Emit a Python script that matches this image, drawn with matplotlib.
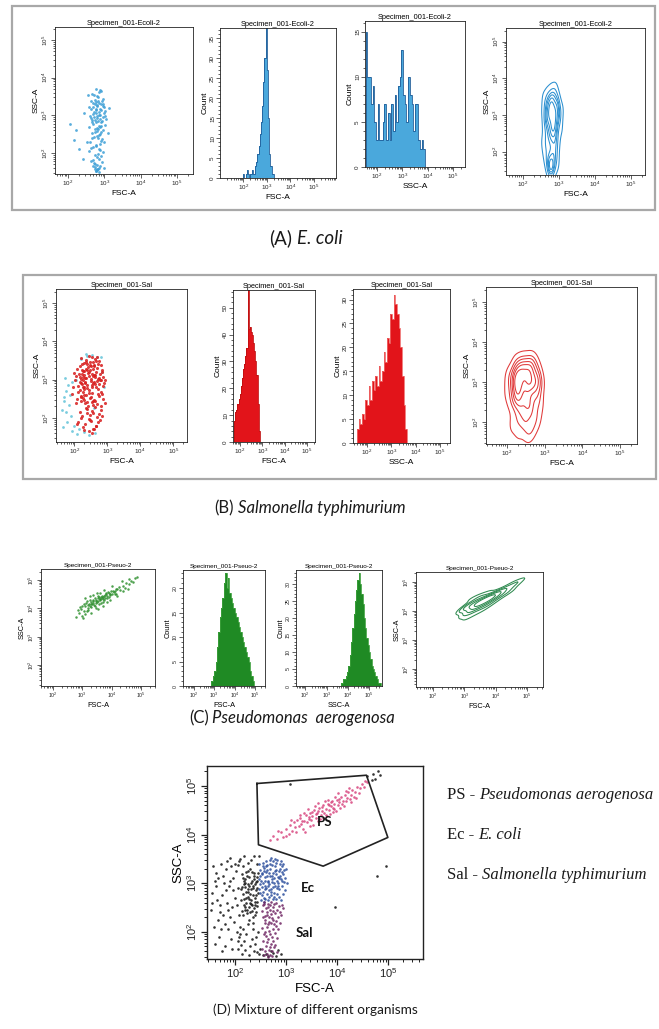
import numpy as np
import matplotlib
matplotlib.use("Agg")
import matplotlib.pyplot as plt
import seaborn as sns
from matplotlib.patches import Rectangle

plt.rcParams['font.family'] = ['Liberation Sans', 'DejaVu Sans']
plt.rcParams['mathtext.fontset'] = 'custom'
plt.rcParams['mathtext.rm'] = 'Liberation Sans'
plt.rcParams['mathtext.it'] = 'Liberation Sans:italic'

# ---------------- data (log10 units for FSC-A / SSC-A) ----------------
# (A) E. coli scatter
ecoli_fsc = [2.78, 2.86, 2.71, 2.92, 2.83, 2.66, 2.95, 2.80, 2.74, 2.89,
             2.62, 2.84, 2.97, 2.76, 2.69, 2.91, 2.81, 3.02, 2.73, 2.87,
             2.79, 2.58, 2.94, 2.85, 2.68, 2.99, 2.77, 2.90, 2.64, 2.82,
             2.71, 2.88, 2.95, 2.60, 2.83, 2.76, 3.05, 2.67, 2.92, 2.80,
             2.86, 2.74, 2.98, 2.63, 2.81, 2.93, 2.70, 2.89, 2.78, 3.01,
             2.69, 2.91, 2.82, 2.58, 2.96, 2.75, 2.87, 2.65, 3.03, 2.79,
             2.84, 2.72, 2.94, 2.61, 2.80, 2.88, 2.67, 2.99, 2.76, 2.90,
             2.77, 2.63, 2.89, 2.83, 2.70, 2.96, 2.74, 2.86, 2.59, 2.92,
             2.81, 2.68, 2.93, 2.75, 2.87, 2.62, 2.98, 2.79, 2.71, 2.85,
             2.76, 2.82, 2.73, 2.79, 2.86, 2.70, 2.84, 2.77, 2.80, 2.74,
             2.05, 2.22, 2.30, 2.45, 2.52, 3.10, 2.40, 2.55, 3.12, 2.15,
             2.73, 2.85, 2.90, 2.66, 2.78, 2.83, 2.95, 2.71, 2.88, 2.80]
ecoli_ssc = [3.70, 3.62, 3.55, 3.66, 3.48, 3.58, 3.44, 3.52, 3.41, 3.68,
             3.38, 3.33, 3.29, 3.36, 3.21, 3.15, 3.25, 3.12, 3.31, 3.18,
             3.27, 3.22, 3.37, 3.10, 3.34, 3.23, 3.14, 3.30, 3.17, 3.39,
             3.08, 3.02, 2.95, 2.98, 2.86, 3.05, 2.90, 2.83, 2.81, 2.93,
             3.00, 2.88, 3.06, 2.92, 2.97, 2.85, 3.03, 2.91, 2.82, 2.99,
             2.78, 2.72, 2.65, 2.70, 2.60, 2.55, 2.68, 2.52, 2.75, 2.58,
             2.48, 2.42, 2.36, 2.30, 2.45, 2.25, 2.39, 2.28, 2.21, 2.33,
             2.18, 2.12, 2.07, 1.98, 2.15, 2.02, 1.94, 2.10, 2.05, 1.91,
             1.88, 1.82, 1.76, 1.70, 1.65, 1.79, 1.60, 1.56, 1.73, 1.85,
             1.52, 1.58, 1.62, 1.55, 1.50, 1.66, 1.61, 1.53, 1.68, 1.57,
             2.78, 2.60, 2.10, 3.05, 2.30, 2.52, 1.85, 3.55, 3.20, 2.35,
             2.63, 2.71, 2.57, 2.87, 3.18, 2.40, 3.26, 2.95, 2.50, 2.67]

# (A) histograms
ecoli_fsc_lo, ecoli_fsc_hi = 1.95, 3.35
ecoli_fsc_counts = [0, 1, 0, 1, 2, 1, 0, 1, 2, 1, 1, 3, 4, 6, 8, 11, 14, 18,
                    24, 30, 38, 27, 15, 6, 3, 1, 1, 0]
ecoli_ssc_lo, ecoli_ssc_hi = 1.56, 3.90
ecoli_ssc_counts = [15, 10, 10, 7, 9, 5, 3, 7, 3, 3, 5, 7, 3, 6, 3, 7, 4, 8,
                    5, 9, 10, 13, 8, 7, 5, 10, 8, 7, 4, 7, 7, 3, 2, 3, 2]

# (B) Salmonella scatter (gated red events + ungated cyan events)
sal_fsc = [2.35, 2.62, 2.81, 2.48, 2.22, 2.70, 2.55, 2.41, 2.88, 2.60,
           2.30, 2.75, 2.52, 2.38, 2.84, 2.45, 2.66, 2.25, 2.57, 2.78,
           2.33, 2.54, 2.90, 2.63, 2.43, 2.71, 2.20, 2.50, 2.83, 2.40,
           2.65, 2.28, 2.58, 2.79, 2.46, 2.36, 2.73, 2.56, 2.86, 2.31,
           2.61, 2.44, 2.68, 2.53, 2.26, 2.92, 2.64, 2.39, 2.59, 2.76,
           2.25, 2.48, 2.61, 2.35, 2.72, 2.55, 2.18, 2.44, 2.66, 2.80,
           2.30, 2.52, 2.63, 2.40, 2.76, 2.58, 2.22, 2.47, 2.69, 2.36,
           2.05, 2.18, 2.28, 1.98, 2.12, 2.32, 2.22, 2.08, 2.25, 1.95,
           2.15, 2.30, 2.02, 2.20, 2.34, 2.10, 2.26, 2.00, 2.17, 2.31,
           2.13, 2.24, 2.06, 2.29, 2.19,
           2.28, 2.52, 2.72, 2.40, 2.88, 2.58, 2.22, 2.80, 2.46, 2.64,
           2.32, 2.55, 2.92, 2.26, 2.76, 2.42, 2.60, 2.85, 2.36, 2.57,
           2.68, 2.48, 2.30, 2.82, 2.54,
           2.36, 2.55, 2.74, 2.25, 2.62, 2.45, 2.82, 2.18, 2.50, 2.68,
           2.32, 2.58, 2.40, 2.78, 2.12, 2.65, 2.48, 2.28, 2.60, 2.72,
           2.44, 2.22, 2.54, 2.66, 2.38, 2.10, 2.57, 2.47, 2.85, 2.30]
sal_ssc = [3.05, 3.12, 2.98, 3.25, 2.91, 3.30, 2.85, 3.18, 3.08, 2.95,
           3.22, 2.88, 3.02, 2.78, 3.20, 3.10, 2.82, 3.15, 3.28, 3.00,
           2.93, 3.16, 2.90, 3.06, 3.33, 2.75, 3.03, 2.97, 3.26, 2.86,
           3.21, 2.80, 3.09, 3.14, 2.72, 3.27, 3.01, 2.92, 2.84, 3.11,
           3.35, 3.19, 2.96, 2.81, 3.07, 3.00, 2.89, 3.24, 3.13, 3.04,
           3.40, 3.45, 3.38, 3.52, 3.42, 3.58, 3.36, 3.62, 3.48, 3.39,
           3.44, 3.37, 3.55, 3.41, 3.50, 3.46, 3.56, 3.39, 3.60, 3.47,
           3.10, 2.95, 3.22, 2.80, 2.68, 3.05, 2.55, 3.28, 2.88, 2.62,
           3.15, 2.75, 2.98, 2.45, 2.92, 2.50, 3.00, 3.18, 2.72, 2.60,
           2.84, 3.25, 2.40, 2.82, 3.08,
           2.68, 2.55, 2.62, 2.42, 2.50, 2.35, 2.58, 2.30, 2.65, 2.45,
           2.38, 2.66, 2.40, 2.52, 2.57, 2.32, 2.48, 2.63, 2.60, 2.44,
           2.36, 2.53, 2.46, 2.67, 2.41,
           2.25, 2.18, 2.10, 2.05, 2.28, 1.98, 2.20, 2.15, 1.92, 2.02,
           1.85, 2.12, 2.22, 1.95, 1.90, 1.80, 2.07, 1.75, 1.70, 1.88,
           1.65, 2.00, 1.60, 1.78, 2.14, 1.83, 1.72, 1.95, 2.06, 1.68]
sal_other_fsc = [1.62, 1.70, 1.78, 1.85, 1.66, 1.74, 1.90, 1.81, 1.68, 1.95,
                 1.88, 1.75, 2.00, 2.10, 2.30, 2.45, 2.62, 2.80, 2.20, 2.40,
                 2.55, 2.70, 2.85, 2.15, 1.92, 2.05, 2.35, 2.60, 2.90, 1.72]
sal_other_ssc = [2.20, 2.55, 1.90, 2.35, 1.75, 2.70, 2.05, 2.85, 2.45, 1.65,
                 2.60, 2.15, 1.80, 1.58, 1.62, 1.55, 1.60, 3.58, 3.55, 3.62,
                 3.64, 3.60, 3.20, 1.70, 2.95, 3.00, 3.66, 2.25, 2.80, 3.05]

# (B) histograms
sal_fsc_lo, sal_fsc_hi = 1.74, 2.89
sal_fsc_counts = [8, 11, 12, 14, 16, 18, 21, 24, 27, 29, 32, 35, 57, 42, 43,
                  41, 40, 37, 34, 30, 25, 14, 4]
sal_ssc_lo, sal_ssc_hi = 1.58, 3.64
sal_ssc_counts = [3, 5, 4, 6, 5, 9, 8, 12, 9, 13, 11, 14, 12, 16, 13, 15, 19,
                  17, 22, 21, 27, 26, 31, 29, 27, 24, 20, 14, 8, 3]

# (C) Pseudomonas scatter
pseudo_fsc = [3.12, 3.25, 3.38, 3.45, 3.52, 3.30, 3.18, 3.60, 3.66, 3.72,
              3.80, 3.85, 3.92, 3.40, 3.55, 3.70, 3.22, 3.48, 3.63, 3.77,
              3.08, 3.35, 3.58, 3.95, 4.05, 3.28, 3.50, 3.68, 3.88, 4.10,
              3.15, 3.42, 3.57, 3.75, 3.98, 4.15, 3.33, 3.62, 3.83, 4.02,
              3.20, 3.46, 3.53, 3.70, 3.90, 4.20, 3.36, 3.65, 3.82, 4.08,
              3.05, 3.26, 3.44, 3.59, 3.78, 3.96, 4.12, 3.31, 3.73, 4.25,
              2.88, 2.95, 3.00, 2.92, 3.05, 3.10, 2.85, 3.15, 2.98, 3.02,
              4.30, 4.38, 4.45, 4.50, 4.58, 4.65, 4.72, 4.80, 4.86, 4.40,
              3.25, 3.50, 3.75, 4.00, 3.20, 3.45, 3.70, 3.95, 4.20, 4.35,
              3.10, 3.60, 3.85, 4.15, 3.38, 2.80, 3.30, 4.55, 3.55, 4.60]
pseudo_ssc = [4.20, 4.08, 4.30, 4.18, 4.36, 4.22, 4.02, 4.28, 4.45, 4.32,
              4.50, 4.38, 4.55, 4.12, 4.25, 4.40, 4.16, 4.31, 4.20, 4.47,
              4.10, 4.27, 4.41, 4.48, 4.62, 4.05, 4.22, 4.35, 4.58, 4.52,
              4.25, 4.38, 4.15, 4.28, 4.60, 4.70, 4.14, 4.33, 4.42, 4.49,
              4.12, 4.26, 4.44, 4.22, 4.40, 4.68, 4.20, 4.39, 4.53, 4.57,
              4.15, 4.30, 4.09, 4.34, 4.37, 4.52, 4.60, 4.17, 4.43, 4.75,
              3.85, 3.98, 3.72, 4.05, 3.90, 3.80, 3.95, 3.92, 4.10, 3.65,
              4.66, 4.80, 4.72, 4.90, 4.85, 4.98, 4.92, 5.06, 5.10, 4.62,
              4.45, 4.55, 4.65, 4.78, 3.95, 4.00, 4.10, 4.30, 4.45, 4.95,
              4.35, 4.55, 4.22, 4.50, 4.48, 3.70, 3.85, 4.70, 3.98, 5.05]

# (C) histograms
pseudo_fsc_lo, pseudo_fsc_hi = 2.86, 4.95
pseudo_fsc_counts = [1, 2, 3, 5, 8, 11, 14, 16, 18, 21, 23, 20, 22, 19, 18,
                     17, 16, 15, 14, 13, 12, 11, 10, 9, 8, 7, 6, 5, 3, 2, 1]
pseudo_ssc_lo, pseudo_ssc_hi = 3.67, 5.53
pseudo_ssc_counts = [1, 1, 2, 2, 3, 4, 6, 9, 13, 17, 21, 25, 28, 31, 33, 30,
                     27, 24, 20, 17, 14, 12, 10, 8, 6, 5, 4, 3, 2, 1, 1]

# (D) mixture
mix_other_fsc = [2.15, 2.28, 2.38, 2.22, 2.41, 2.33, 2.18, 2.30, 2.44, 2.25,
                 2.12, 2.36, 2.20, 2.43, 2.27, 2.39, 2.16, 2.32, 2.24, 2.40,
                 2.13, 2.35, 2.21, 2.45, 2.29, 2.19, 2.37, 2.26, 2.42, 2.14,
                 2.31, 2.23, 2.40, 2.17, 2.34, 2.28, 2.44, 2.20, 2.36, 2.25,
                 2.11, 2.38, 2.30, 2.42, 2.18, 2.27, 2.33, 2.22, 2.45, 2.15,
                 2.39, 2.26, 2.32, 2.19, 2.43, 2.35, 2.21, 2.29, 2.41, 2.13,
                 2.37, 2.24, 2.31, 2.17, 2.44, 2.28, 2.40, 2.20, 2.34, 2.26,
                 1.55, 1.62, 1.70, 1.78, 1.85, 1.92, 1.98, 2.05, 1.58, 1.65,
                 1.72, 1.80, 1.88, 1.95, 2.02, 2.08, 1.60, 1.68, 1.75, 1.83,
                 1.90, 1.97, 2.04, 1.53, 1.63, 1.73, 1.82, 1.93, 2.00, 2.07,
                 1.57, 1.66, 1.77, 1.87, 1.96, 2.03, 1.61, 1.71, 1.81, 1.91,
                 2.09, 1.99, 1.86, 1.76, 1.67, 1.54, 1.94, 2.06, 1.84, 1.74,
                 2.10, 2.22, 2.35, 2.18, 2.30, 2.42, 2.05, 2.26, 2.38, 2.14,
                 2.45, 2.33, 2.20, 2.08, 2.40, 2.28, 2.16, 2.44, 2.12, 2.36,
                 2.50, 2.60, 2.70, 2.80, 2.55, 2.75, 2.65, 2.85, 2.48, 2.90,
                 2.10, 2.25, 2.38, 2.05, 2.32, 2.18, 2.44, 1.90, 2.48, 2.15,
                 4.60, 4.70, 4.75, 4.80, 4.68, 4.85, 3.08, 4.97, 4.78, 3.96]
mix_other_ssc = [3.10, 2.95, 3.20, 2.70, 2.85, 3.05, 2.55, 2.40, 2.62, 3.25,
                 2.88, 2.75, 3.00, 3.12, 2.50, 2.35, 2.78, 2.65, 3.15, 2.98,
                 2.42, 2.90, 2.60, 2.80, 3.30, 2.92, 2.48, 2.82, 3.02, 3.18,
                 2.58, 2.38, 2.70, 3.05, 3.22, 2.68, 2.52, 2.45, 2.95, 2.88,
                 2.65, 3.08, 2.78, 2.40, 2.98, 3.12, 2.55, 2.82, 3.20, 2.35,
                 2.62, 2.72, 3.00, 2.50, 2.90, 2.30, 3.22, 2.60, 2.75, 2.92,
                 3.15, 2.45, 2.88, 2.68, 3.05, 2.25, 2.55, 3.08, 2.42, 2.98,
                 2.80, 3.20, 2.40, 3.00, 2.60, 3.35, 2.20, 2.90, 2.10, 2.65,
                 3.40, 2.15, 2.95, 2.50, 3.25, 2.35, 3.05, 1.90, 2.75, 3.30,
                 2.30, 3.10, 2.55, 2.45, 2.95, 2.05, 2.85, 1.85, 2.70, 3.45,
                 3.35, 2.25, 3.15, 2.45, 2.85, 2.00, 1.75, 2.55, 1.70, 3.05,
                 1.95, 3.40, 2.05, 2.35, 3.10, 2.60, 1.65, 1.80, 3.45, 1.60,
                 2.10, 1.95, 2.05, 1.80, 1.70, 1.90, 1.65, 2.15, 1.60, 1.55,
                 2.00, 1.85, 1.62, 1.90, 1.75, 1.52, 2.05, 1.58, 1.72, 2.18,
                 1.65, 1.55, 1.60, 1.50, 1.52, 1.57, 1.50, 1.62, 1.55, 1.55,
                 3.50, 3.42, 3.55, 3.38, 3.48, 3.56, 3.40, 3.52, 3.55, 3.35,
                 5.20, 5.25, 5.15, 5.30, 5.12, 5.22, 5.05, 3.35, 3.14, 2.51]
mix_ec_fsc = [2.52, 2.65, 2.78, 2.58, 2.85, 2.70, 2.48, 2.92, 2.62, 2.75,
              2.55, 2.88, 2.68, 2.50, 2.82, 2.60, 2.95, 2.72, 2.57, 2.80,
              2.47, 2.66, 2.90, 2.63, 2.77, 2.53, 2.86, 2.69, 2.98, 2.59,
              2.74, 2.51, 2.84, 2.64, 2.79, 2.56, 2.93, 2.71, 2.49, 2.87,
              2.61, 2.76, 2.54, 2.91, 2.67, 2.81, 2.58, 2.96, 2.73, 2.50,
              2.83, 2.63, 2.78, 2.55, 2.89, 2.69, 2.52, 2.97, 2.65, 2.80,
              2.60, 2.75, 2.86, 2.57, 2.72, 2.94, 2.48, 2.68, 2.82, 2.62,
              2.99, 2.54, 2.77, 2.66, 2.88, 2.51, 2.74, 2.92, 2.59, 2.85,
              3.02, 3.00, 2.70, 2.56, 2.90, 2.64, 2.79, 2.53, 2.83, 2.71,
              2.61, 2.87, 2.76, 2.58, 2.95, 2.67, 2.81, 2.50, 2.73, 2.93]
mix_ec_ssc = [3.20, 3.05, 3.35, 2.88, 3.12, 2.75, 3.40, 2.95, 3.28, 2.68,
              3.00, 3.30, 3.15, 2.80, 2.90, 3.45, 3.18, 3.02, 2.70, 3.42,
              3.08, 2.85, 3.08, 3.38, 2.80, 2.92, 3.25, 3.48, 2.85, 3.12,
              3.20, 2.65, 3.00, 2.95, 3.50, 3.32, 3.35, 2.88, 3.15, 2.72,
              3.22, 3.10, 2.82, 3.45, 2.72, 3.28, 3.05, 3.02, 3.38, 2.98,
              2.78, 3.15, 2.95, 3.42, 3.15, 3.30, 2.75, 3.28, 2.65, 3.18,
              2.90, 3.45, 2.88, 3.25, 3.08, 2.78, 2.88, 3.40, 3.05, 2.78,
              3.10, 3.35, 2.72, 3.20, 3.40, 3.05, 2.92, 3.22, 2.68, 2.95,
              3.00, 3.30, 3.52, 2.62, 2.65, 3.02, 3.25, 3.18, 3.48, 2.82,
              3.35, 3.10, 3.00, 2.95, 3.40, 2.98, 2.68, 3.28, 3.15, 3.05]
mix_sal_fsc = [2.55, 2.68, 2.80, 2.62, 2.75, 2.58, 2.88, 2.70, 2.52, 2.84,
               2.65, 2.78, 2.60, 2.92, 2.72, 2.56, 2.82, 2.66, 2.76, 2.63,
               2.86, 2.59, 2.74, 2.69, 2.54, 2.81, 2.64, 2.90, 2.71, 2.57,
               2.62, 2.75, 2.68, 2.58, 2.80, 2.65, 2.72, 2.55, 2.78, 2.85,
               2.60, 2.70, 2.66, 2.76, 2.63, 2.73, 2.58, 2.82, 2.68, 2.52,
               2.64, 2.70, 2.77, 2.61, 2.74, 2.67, 2.59, 2.83, 2.56, 2.88,
               2.69, 2.62, 2.79, 2.65, 2.72, 2.57, 2.75, 2.67, 2.94, 2.53]
mix_sal_ssc = [2.55, 2.45, 2.60, 2.35, 2.50, 2.25, 2.40, 2.62, 2.42, 2.30,
               2.58, 2.38, 2.48, 2.55, 2.28, 2.62, 2.45, 2.20, 2.57, 2.40,
               2.52, 2.32, 2.42, 2.55, 2.30, 2.22, 2.50, 2.35, 2.36, 2.58,
               2.10, 2.05, 1.95, 2.00, 2.12, 1.85, 1.90, 1.80, 1.98, 2.05,
               1.70, 1.75, 1.62, 1.68, 1.55, 1.50, 1.60, 1.58, 1.52, 1.65,
               2.15, 2.18, 2.15, 1.92, 1.82, 2.02, 2.18, 1.88, 1.95, 2.18,
               1.68, 1.78, 1.72, 1.48, 1.60, 1.52, 2.25, 2.30, 2.48, 2.08]
mix_ps_fsc = [2.68, 2.75, 2.82, 2.90, 2.95, 3.00, 3.05, 3.08, 3.12, 3.15,
              3.18, 3.22, 3.25, 3.28, 3.30, 3.33, 3.36, 3.40, 3.42, 3.45,
              3.48, 3.50, 3.52, 3.55, 3.58, 3.60, 3.62, 3.65, 3.68, 3.70,
              3.72, 3.75, 3.78, 3.80, 3.82, 3.85, 3.88, 3.90, 3.92, 3.95,
              3.98, 4.00, 4.02, 4.05, 4.08, 4.10, 4.12, 4.15, 4.18, 4.20,
              4.22, 4.25, 4.28, 4.30, 4.33, 4.36, 4.40, 4.43, 4.46, 4.50,
              4.53, 4.56, 4.60, 3.20, 3.35, 3.47, 3.57, 3.67, 3.77, 3.87,
              3.97, 4.07, 4.17, 4.27, 3.10, 3.00, 2.85, 3.38, 3.63, 3.73,
              3.83, 3.93, 4.03, 4.13, 4.23, 4.38, 3.27, 3.53, 3.43, 3.58,
              3.70, 3.85, 3.95, 4.05, 3.62, 3.78, 3.52, 3.88, 3.45, 3.32]
mix_ps_ssc = [3.88, 3.98, 3.90, 4.05, 3.95, 4.12, 4.02, 4.20, 4.08, 4.25,
              4.15, 4.30, 4.18, 4.35, 4.22, 4.12, 4.28, 4.40, 4.25, 4.33,
              4.45, 4.30, 4.38, 4.50, 4.35, 4.44, 4.28, 4.55, 4.40, 4.48,
              4.60, 4.45, 4.52, 4.38, 4.62, 4.50, 4.58, 4.70, 4.55, 4.63,
              4.48, 4.72, 4.60, 4.67, 4.78, 4.62, 4.70, 4.82, 4.68, 4.76,
              4.88, 4.74, 4.82, 4.92, 4.78, 4.88, 4.98, 4.85, 4.95, 5.05,
              4.98, 5.10, 5.08, 4.05, 4.45, 4.18, 4.58, 4.32, 4.68, 4.42,
              4.78, 4.55, 4.90, 4.66, 4.30, 3.98, 4.08, 4.05, 4.65, 4.35,
              4.72, 4.47, 4.85, 4.58, 4.95, 4.75, 4.40, 4.20, 4.52, 4.42,
              4.56, 4.60, 4.52, 4.74, 4.48, 4.40, 4.46, 4.66, 4.36, 4.28]
gate_fsc = [2.43, 4.58, 5.00, 3.73, 2.46]
gate_ssc = [5.05, 5.22, 3.94, 3.35, 3.79]

legend_codes = ['PS', 'Ec', 'Sal']
legend_names = ['Pseudomonas aerogenosa', 'E. coli', 'Salmonella typhimurium']

# ---------------- figure ----------------
W, H = 659, 1029
fig = plt.figure(figsize=(W / 100, H / 100), dpi=100)

bg = fig.add_axes([0, 0, 1, 1])
bg.set_xlim(0, W)
bg.set_ylim(H, 0)
bg.axis('off')

bg.add_patch(Rectangle((12, 6), 643, 204, fill=False, ec='#a8a8a8', lw=1.6))
bg.add_patch(Rectangle((23, 275), 633, 204, fill=False, ec='#a8a8a8', lw=1.6))


def box(l, t, r, b):
    return [l / W, 1 - b / H, (r - l) / W, (b - t) / H]


def log_axis(axis, lo, hi):
    major = [d for d in range(1, 7) if lo <= d <= hi]
    minor = [d + np.log10(k) for d in range(0, 7) for k in range(2, 10)
             if lo <= d + np.log10(k) <= hi]
    axis.set_ticks(major)
    axis.set_ticklabels([r'$10^{%d}$' % d for d in major])
    axis.set_ticks(minor, minor=True)


def flow_ax(rect, xlim, ylim, title, xlabel, ylabel, fs, ystep=None, lw=0.6):
    ax = fig.add_axes(box(*rect))
    ax.set_xlim(xlim)
    ax.set_ylim(ylim)
    for s in ax.spines.values():
        s.set_linewidth(lw)
        s.set_color('#222222')
    log_axis(ax.xaxis, *xlim)
    if ystep is None:
        log_axis(ax.yaxis, *ylim)
    else:
        ax.set_yticks(np.arange(0, ylim[1], ystep))
        ax.set_yticks(np.arange(0, ylim[1], ystep / 5), minor=True)
    if title:
        ax.set_title(title, fontsize=fs + 0.8, pad=1.5)
    ax.set_xlabel(xlabel, fontsize=fs + 1.5, labelpad=1.5)
    ax.set_ylabel(ylabel, fontsize=fs + 1.5, labelpad=1)
    ax.tick_params(which='both', direction='out', labelsize=fs, pad=1,
                   width=0.5, colors='#222222')
    ax.tick_params(which='major', length=2.6)
    ax.tick_params(which='minor', length=1.4)
    ax.tick_params(axis='y', labelrotation=90)
    for lab in ax.get_yticklabels():
        lab.set_va('center')
    return ax


def scatter(ax, x, y, color, s=4):
    ax.scatter(x, y, s=s, c=color, linewidths=0, alpha=0.85)


def hist(ax, counts, lo, hi, fill, edge):
    edges = np.linspace(lo, hi, len(counts) + 1)
    ax.stairs(counts, edges, fill=True, color=fill)
    ax.stairs(counts, edges, color=edge, lw=0.6)


def contour(ax, x, y, color, levels, bw, thresh, xlim, ylim, fs):
    sns.kdeplot(x=x, y=y, ax=ax, levels=levels, thresh=thresh, bw_adjust=bw,
                color=color, linewidths=0.75)
    ax.set_xlim(xlim)
    ax.set_ylim(ylim)
    ax.set_xlabel('FSC-A', fontsize=fs, labelpad=1.5)
    ax.set_ylabel('SSC-A', fontsize=fs, labelpad=1)


# ---- row A: E. coli ----
tA = 'Specimen_001-Ecoli-2'
ax = flow_ax((55, 27, 193, 174), (1.64, 5.44), (1.44, 5.35), tA, 'FSC-A', 'SSC-A', 4.5)
scatter(ax, ecoli_fsc, ecoli_ssc, '#3d9fd6', s=4)

ax = flow_ax((220, 28, 336, 178), (1.01, 5.94), (0, 37.5), tA, 'FSC-A', 'Count', 4.5, ystep=5)
hist(ax, ecoli_fsc_counts, ecoli_fsc_lo, ecoli_fsc_hi, '#4aa8dc', '#1e5c98')

ax = flow_ax((365, 21, 465, 167), (1.53, 5.47), (0, 16.2), tA, 'SSC-A', 'Count', 4.5, ystep=5)
hist(ax, ecoli_ssc_counts, ecoli_ssc_lo, ecoli_ssc_hi, '#4aa8dc', '#1e5c98')

ax = flow_ax((506, 28, 645, 175), (1.53, 5.39), (1.37, 5.37), tA, 'FSC-A', 'SSC-A', 4.5)
contour(ax, ecoli_fsc, ecoli_ssc, '#2b8fd0', 7, 0.75, 0.12, (1.53, 5.39), (1.37, 5.37), 6)

# ---- row B: Salmonella ----
tB = 'Specimen_001-Sal'
ax = flow_ax((56, 289, 187, 442), (1.45, 5.42), (1.37, 5.37), tB, 'FSC-A', 'SSC-A', 4.5)
scatter(ax, sal_other_fsc, sal_other_ssc, '#63c3d9', s=4)
scatter(ax, sal_fsc, sal_ssc, '#d81e1e', s=5)

ax = flow_ax((233, 290, 315, 442), (1.69, 5.36), (0, 56.6), tB, 'FSC-A', 'Count', 4.5, ystep=10)
hist(ax, sal_fsc_counts, sal_fsc_lo, sal_fsc_hi, '#e2141a', '#c01010')

ax = flow_ax((353, 289, 450, 443), (1.42, 5.41), (0, 32.2), tB, 'SSC-A', 'Count', 4.5, ystep=5)
hist(ax, sal_ssc_counts, sal_ssc_lo, sal_ssc_hi, '#e2141a', '#ee6a6a')

ax = flow_ax((486, 287, 637, 444), (1.44, 5.45), (1.45, 5.38), tB, 'FSC-A', 'SSC-A', 4.5)
contour(ax, sal_fsc, sal_ssc, '#e03a3a', 7, 0.9, 0.08, (1.44, 5.45), (1.45, 5.38), 6)

# ---- row C: Pseudomonas ----
tC = 'Specimen_001-Pseuo-2'
ax = flow_ax((41, 569, 155, 686), (1.59, 5.48), (1.26, 5.39), tC, 'FSC-A', 'SSC-A', 3.8)
scatter(ax, pseudo_fsc, pseudo_ssc, '#2f902f', s=3.2)

ax = flow_ax((183, 570, 265, 686), (1.46, 5.49), (0, 23.7), tC, 'FSC-A', 'Count', 3.8, ystep=5)
hist(ax, pseudo_fsc_counts, pseudo_fsc_lo, pseudo_fsc_hi, '#1f8a24', '#3da03d')

ax = flow_ax((296, 570, 382, 686), (1.57, 5.6), (0, 34), tC, 'SSC-A', 'Count', 3.8, ystep=5)
hist(ax, pseudo_ssc_counts, pseudo_ssc_lo, pseudo_ssc_hi, '#1f8a24', '#3da03d')

ax = flow_ax((416, 572, 543, 687), (1.46, 5.5), (1.38, 5.34), tC, 'FSC-A', 'SSC-A', 3.8)
contour(ax, pseudo_fsc, pseudo_ssc, '#2f8a50', 6, 0.9, 0.15, (1.46, 5.5), (1.38, 5.34), 5.3)

# ---- panel D: mixture ----
ax = flow_ax((207, 766, 423, 959), (1.45, 5.69), (1.44, 5.41), None, 'FSC-A', 'SSC-A', 8, lw=1.0)
ax.tick_params(which='major', length=4.5, width=0.9)
ax.tick_params(which='minor', length=2.5, width=0.7)
ax.xaxis.label.set_size(9.5)
ax.yaxis.label.set_size(9.5)
scatter(ax, mix_other_fsc, mix_other_ssc, '#111111', s=3.5)
scatter(ax, mix_ec_fsc, mix_ec_ssc, '#2b4e9c', s=3.5)
scatter(ax, mix_sal_fsc, mix_sal_ssc, '#6e2462', s=3.5)
scatter(ax, mix_ps_fsc, mix_ps_ssc, '#d8467f', s=3.5)
ax.plot(gate_fsc + gate_fsc[:1], gate_ssc + gate_ssc[:1], color='#222222', lw=1.2)
for code, (gx, gy) in zip(legend_codes, [(3.76, 4.25), (3.43, 2.9), (3.37, 1.98)]):
    ax.text(gx, gy, code, family='Lato', weight='bold', fontsize=9.5,
            ha='center', va='center', color='#111111')


# ---------------- captions ----------------
def mixed(x, y, parts, size, family, center=True, gap=3.5):
    first = bg.text(x, y, parts[0][0], fontsize=size, family=family,
                    style=parts[0][1], ha='left', va='center', color='#1a1a1a')
    prev = first
    for s, st in parts[1:]:
        prev = bg.annotate(s, xy=(1, 0), xycoords=prev, xytext=(gap, 0),
                           textcoords='offset pixels', fontsize=size,
                           family=family, style=st, ha='left', va='bottom',
                           color='#1a1a1a')
    if center:
        r = fig.canvas.get_renderer()
        x0 = first.get_window_extent(r).x0
        x1 = prev.get_window_extent(r).x1
        first.set_x(x - (x1 - x0) / 2)


mixed(306, 238, [('(A)', 'normal'), ('E. coli', 'italic')], 13.5, 'Lato', gap=4)
mixed(310, 508, [('(B)', 'normal'), ('Salmonella typhimurium', 'italic')], 12, 'Lato')
mixed(292, 718, [('(C)', 'normal'), ('Pseudomonas  aerogenosa', 'italic')], 12, 'Lato')
mixed(315, 1010, [('(D) Mixture of different organisms', 'normal')], 9.8, 'Lato')

for i, (code, name) in enumerate(zip(legend_codes, legend_names)):
    mixed(447, 795 + 40 * i, [(code + ' -', 'normal'), (name, 'italic')], 12,
          'Liberation Serif', center=False, gap=3.5)

fig.savefig('out.png', dpi=100)
